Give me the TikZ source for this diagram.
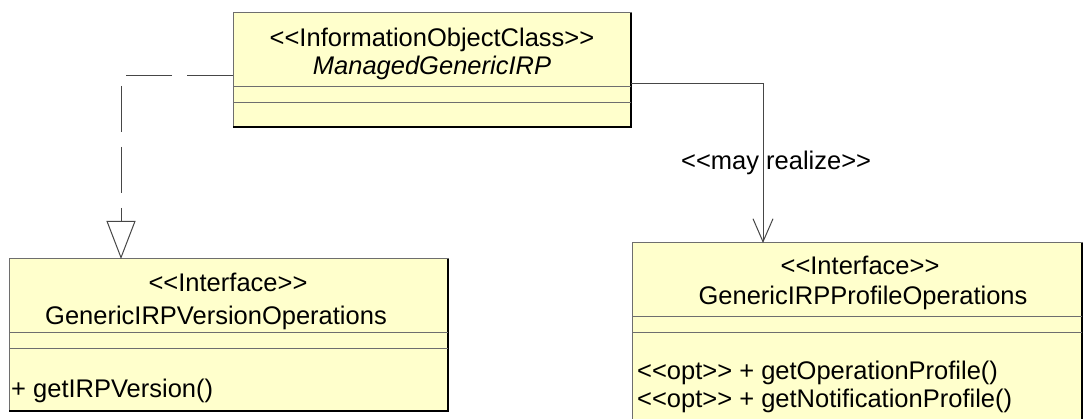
\documentclass[tikz,border=0pt]{standalone}
\usepackage{fontspec}
\newfontfamily\umlfont{Liberation Sans}
\usetikzlibrary{arrows.meta}
\definecolor{clsfill}{RGB}{255,255,204}
\definecolor{clsline}{RGB}{110,110,110}
\definecolor{conline}{RGB}{70,70,70}
\begin{document}
\begin{tikzpicture}[x=1pt,y=-1pt,
  cls/.style={draw=clsline, line width=1pt, fill=clsfill, rectangle, inner sep=0pt, outer sep=0pt, anchor=north west},
  shadowedge/.style={draw=black, line width=2pt},
  comp/.style={draw=clsline, line width=1pt},
  txt/.style={font=\umlfont\fontsize{25.5}{30}\selectfont, inner sep=0pt, text=black},
  depline/.style={draw=conline, line width=1pt, dash pattern=on 46pt off 15pt, -{Triangle[open, length=38pt, width=29pt, line width=1pt]}},
  realline/.style={draw=conline, line width=1pt, -{Straight Barb[length=23pt, width=20pt, line width=1pt]}}
]
\useasboundingbox (0,0) rectangle (1084,419);
% top class
\node[cls, minimum width=398pt, minimum height=114pt] (top) at (233,13) {};
\draw[shadowedge] (top.north east) -- (top.south east) -- (top.south west);
\draw[comp] (top.west |- 0,87) -- (top.east |- 0,87);
\draw[comp] (top.west |- 0,103) -- (top.east |- 0,103);
\node[txt, anchor=base] (topst) at (432,47) {<<InformationObjectClass>>};
\node[txt, anchor=base] (topnm) at (432,75) {\itshape ManagedGenericIRP};
% left interface
\node[cls, minimum width=439pt, minimum height=152pt] (left) at (9,259) {};
\draw[shadowedge] (left.north east) -- (left.south east) -- (left.south west);
\draw[comp] (left.west |- 0,333) -- (left.east |- 0,333);
\draw[comp] (left.west |- 0,349) -- (left.east |- 0,349);
\node[txt, anchor=base] (leftst) at (228,292) {<<Interface>>};
\node[txt, anchor=base] (leftnm) at (216,325) {GenericIRPVersionOperations};
\node[txt, anchor=base west] (leftop) at (11,398) {+ getIRPVersion()};
% right interface
\node[cls, minimum width=450pt, minimum height=180pt] (right) at (632,243) {};
\draw[shadowedge] (right.north east) -- (right.south east);
\draw[comp] (right.west |- 0,317) -- (right.east |- 0,317);
\draw[comp] (right.west |- 0,333) -- (right.east |- 0,333);
\node[txt, anchor=base] (rightst) at (860,275) {<<Interface>>};
\node[txt, anchor=base] (rightnm) at (863,305) {GenericIRPProfileOperations};
\node[txt, anchor=base west] (rightop1) at (637,380) {<<opt>> + getOperationProfile()};
\node[txt, anchor=base west] (rightop2) at (637,407) {<<opt>> + getNotificationProfile()};
% connectors
\draw[depline] ([yshift=-6pt]top.west) -| ([xshift=112pt]left.north west);
\draw[realline] ([yshift=-14pt]top.east) -| ([xshift=131pt]right.north west);
\node[txt, anchor=base west] (reallbl) at (681,170) {<<may realize>>};
\end{tikzpicture}
\end{document}
